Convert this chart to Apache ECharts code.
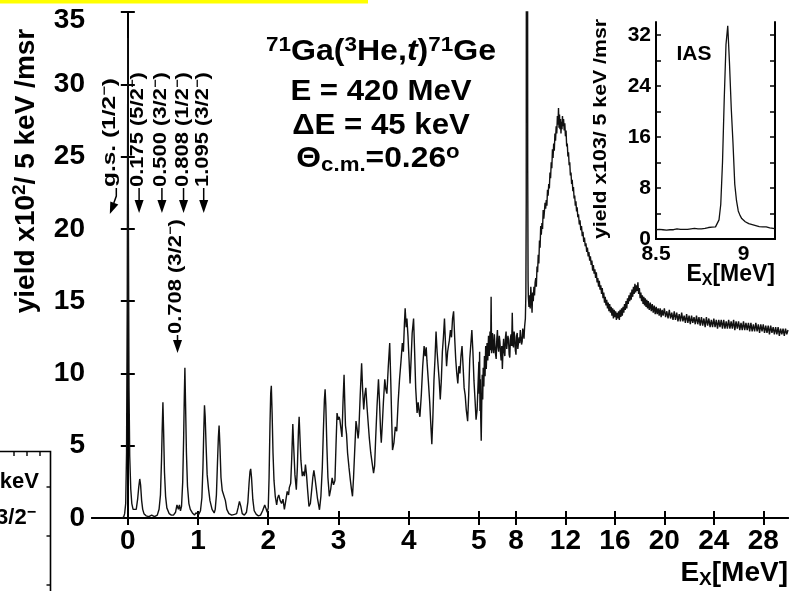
<!DOCTYPE html>
<html>
<head>
<meta charset="utf-8">
<script src="https://cdn.jsdelivr.net/npm/echarts@6/dist/echarts.min.js"></script>
<style>
  html, body { margin: 0; padding: 0; background: #fff; }
  #chart { width: 789px; height: 591px; }
</style>
</head>
<body>
<div id="chart"></div>
<script>
// ---- 71Ga(3He,t)71Ge excitation-energy spectrum ----
// Yield in units of 10^2 counts / 5 keV / msr, excitation energy in MeV.

// discrete low-lying states (0 - 2 MeV)
const lowLyingStates = [
  [-0.09, 0], [-0.06, 0.05], [-0.045, 0.3], [-0.03, 1.0], [-0.018, 4.5], [-0.008, 15], [0.0, 33.2],
  [0.008, 21], [0.017, 9], [0.027, 4.3], [0.042, 2.0], [0.057, 1.0], [0.075, 0.6], [0.1, 0.5],
  [0.12, 0.6], [0.14, 1.3], [0.155, 2.1], [0.17, 2.7], [0.182, 2.3], [0.197, 1.2], [0.212, 0.6],
  [0.23, 0.3], [0.26, 0.15], [0.3, 0.1], [0.34, 0.2], [0.38, 0.1], [0.42, 0.2], [0.445, 0.6],
  [0.465, 1.6], [0.48, 4.0], [0.49, 6.2], [0.5, 8.0], [0.51, 6.0], [0.522, 3.2], [0.538, 1.5],
  [0.556, 0.7], [0.59, 0.3], [0.62, 0.2], [0.65, 0.2], [0.68, 0.4], [0.70, 0.9], [0.71, 1.0],
  [0.72, 0.6], [0.735, 0.9], [0.75, 0.5], [0.765, 0.8], [0.782, 2.5], [0.795, 5.5], [0.805, 8.5],
  [0.813, 10.4], [0.822, 8.0], [0.835, 4.5], [0.85, 2.2], [0.87, 1.0], [0.89, 0.6], [0.92, 0.35],
  [0.95, 0.2], [0.97, 0.35], [0.99, 0.3], [1.01, 0.25], [1.035, 0.5], [1.055, 1.4], [1.07, 3.5],
  [1.082, 6.0], [1.092, 7.8], [1.102, 7.0], [1.115, 5.0], [1.13, 3.0], [1.15, 2.0], [1.17, 1.2],
  [1.2, 0.6], [1.23, 0.35], [1.245, 0.6], [1.262, 1.6], [1.277, 3.8], [1.29, 5.6], [1.30, 6.4],
  [1.312, 5.0], [1.327, 2.8], [1.345, 1.9], [1.37, 1.84], [1.39, 1.2], [1.41, 0.6], [1.44, 0.3],
  [1.48, 0.2], [1.52, 0.25], [1.55, 0.3], [1.57, 0.7], [1.59, 1.15], [1.61, 0.8], [1.63, 0.3],
  [1.66, 0.2], [1.69, 0.4], [1.71, 1.1], [1.727, 2.4], [1.74, 3.2], [1.75, 3.4], [1.762, 2.8],
  [1.78, 1.3], [1.80, 0.5], [1.83, 0.25], [1.86, 0.15], [1.89, 0.2], [1.92, 0.5], [1.95, 0.9],
  [1.965, 0.7], [1.985, 0.4], [2.0, 0.7]
];

// fragmented strength between 2 and 5 MeV
const fragmentedStates = [
  [2.012, 2.8], [2.025, 6.5], [2.035, 8.6], [2.044, 9.15], [2.055, 7.3], [2.068, 4.5], [2.082, 2.6],
  [2.10, 1.5], [2.12, 0.9], [2.135, 1.4], [2.15, 1.6], [2.17, 1.2], [2.19, 1.0], [2.21, 1.3],
  [2.23, 0.6], [2.25, 1.2], [2.27, 1.84], [2.29, 1.6], [2.30, 2.1], [2.32, 2.4], [2.335, 4.2],
  [2.35, 6.5], [2.362, 5.0], [2.38, 3.0], [2.40, 1.96], [2.415, 3.5], [2.43, 6.0], [2.44, 7.0],
  [2.45, 5.8], [2.465, 4.0], [2.485, 2.9], [2.50, 3.2], [2.515, 2.9], [2.53, 3.7], [2.545, 3.0],
  [2.56, 2.0], [2.58, 0.8], [2.60, 1.0], [2.62, 2.0], [2.635, 2.8], [2.65, 3.3], [2.665, 2.8],
  [2.68, 2.2], [2.70, 1.4], [2.73, 0.57], [2.75, 1.5], [2.77, 3.5], [2.785, 6.0], [2.80, 8.2],
  [2.81, 8.9], [2.82, 7.8], [2.835, 5.0], [2.85, 2.8], [2.87, 1.5], [2.89, 2.0], [2.91, 2.77],
  [2.93, 2.3], [2.95, 2.6], [2.965, 5.0], [2.98, 7.26], [2.995, 6.8], [3.01, 7.0], [3.02, 6.8],
  [3.035, 6.2], [3.05, 5.6], [3.065, 8.0], [3.08, 9.9], [3.09, 8.0], [3.10, 6.4], [3.115, 5.8],
  [3.13, 4.5], [3.15, 3.5], [3.17, 2.6], [3.185, 2.0], [3.20, 1.5], [3.215, 2.8], [3.23, 4.5],
  [3.25, 6.7], [3.265, 6.2], [3.28, 5.5], [3.29, 6.0], [3.31, 8.5], [3.33, 10.7], [3.345, 8.8],
  [3.36, 7.5], [3.375, 8.5], [3.39, 9.0], [3.405, 7.8], [3.42, 6.8], [3.44, 5.5], [3.46, 4.5],
  [3.48, 3.8], [3.50, 3.1], [3.515, 3.6], [3.53, 5.5], [3.55, 7.8], [3.57, 9.6], [3.585, 8.0],
  [3.60, 6.0], [3.61, 5.2], [3.625, 6.5], [3.64, 8.0], [3.66, 9.6], [3.675, 8.9], [3.69, 8.6],
  [3.71, 10.5], [3.73, 12.1], [3.745, 9.5], [3.76, 6.5], [3.77, 4.7], [3.79, 5.2], [3.81, 6.3],
  [3.83, 6.0], [3.85, 8.0], [3.87, 9.6], [3.89, 10.8], [3.91, 12.1], [3.925, 11.5], [3.94, 13.5],
  [3.95, 14.5], [3.965, 13.2], [3.975, 13.8], [3.99, 12.6], [4.005, 11.0], [4.02, 9.3],
  [4.035, 11.0], [4.05, 12.8], [4.07, 13.8], [4.085, 11.5], [4.10, 9.0], [4.12, 7.26],
  [4.135, 8.0], [4.15, 7.3], [4.16, 7.0], [4.18, 8.5], [4.20, 10.5], [4.22, 11.9], [4.235, 11.2],
  [4.25, 11.8], [4.26, 10.9], [4.28, 9.5], [4.30, 8.0], [4.315, 6.5], [4.33, 5.1], [4.345, 7.0],
  [4.36, 9.5], [4.375, 11.0], [4.39, 12.9], [4.405, 11.5], [4.42, 10.5], [4.435, 9.5], [4.45, 8.2],
  [4.465, 9.5], [4.48, 11.5], [4.495, 12.5], [4.51, 13.8], [4.525, 12.0], [4.54, 10.5],
  [4.555, 11.5], [4.57, 12.0], [4.58, 12.3], [4.595, 13.0], [4.61, 12.5], [4.625, 13.8],
  [4.64, 14.3], [4.655, 12.5], [4.67, 11.0], [4.685, 10.0], [4.70, 9.3], [4.715, 10.5],
  [4.73, 10.0], [4.745, 11.2], [4.76, 11.9], [4.775, 10.5], [4.79, 9.0], [4.805, 8.5], [4.82, 7.5],
  [4.84, 6.7], [4.855, 8.5], [4.87, 11.0], [4.885, 12.0], [4.90, 13.0], [4.915, 11.5], [4.93, 9.5],
  [4.945, 8.2], [4.96, 6.8], [4.975, 7.5], [4.99, 9.5], [5.0, 10.8]
];

// 5 - 8.8 MeV continuum up to the isobaric analog state
const continuumBelowIAS = [
  [5.03, 8.6], [5.06, 11.5], [5.09, 7.4], [5.12, 9.6], [5.15, 6.9], [5.19, 5.35], [5.23, 7.8],
  [5.27, 9.9], [5.31, 8.2], [5.35, 10.4], [5.4, 9.1], [5.45, 11.2], [5.5, 9.8], [5.55, 11.9],
  [5.6, 10.3], [5.66, 12.1], [5.72, 10.9], [5.78, 12.6], [5.84, 11.2], [5.9, 12.9], [5.95, 11.6],
  [5.99, 15.3], [6.03, 11.4], [6.1, 12.8], [6.15, 11.7], [6.2, 11.4], [6.25, 12.7], [6.3, 12.6],
  [6.35, 11.3], [6.4, 11.0], [6.45, 12.4], [6.5, 13.0], [6.55, 11.8], [6.6, 11.5], [6.65, 12.6],
  [6.7, 12.2], [6.75, 11.4], [6.8, 10.9], [6.85, 11.9], [6.9, 10.3], [6.95, 11.6], [7.0, 12.4],
  [7.05, 11.5], [7.1, 11.2], [7.15, 12.5], [7.2, 12.9], [7.25, 11.7], [7.3, 11.6], [7.35, 12.6],
  [7.4, 12.3], [7.45, 11.3], [7.5, 11.1], [7.55, 12.4], [7.6, 12.7], [7.65, 11.9], [7.7, 14.2],
  [7.75, 12.0], [7.8, 11.8], [7.85, 12.9], [7.9, 12.5], [7.95, 11.6], [8.0, 11.3], [8.05, 12.6],
  [8.1, 12.8], [8.15, 11.7], [8.2, 11.6], [8.25, 12.5], [8.3, 12.1], [8.35, 13.0], [8.4, 12.9],
  [8.45, 12.0], [8.5, 12.2], [8.55, 13.1], [8.6, 13.0], [8.65, 12.4], [8.7, 13.25], [8.76, 13.8]
];

// isobaric analog state (IAS), far above the frame at this scale
const iasPeak = [
  [8.80, 15.5], [8.83, 22], [8.85, 60], [8.87, 210], [8.885, 334], [8.90, 220], [8.92, 70],
  [8.95, 24], [8.98, 16.4], [9.0, 15.3]
];

// Gamow-Teller giant resonance and the continuum above it
const giantResonance = [
  [9.05, 14.6], [9.10, 15.4], [9.15, 14.5], [9.20, 16.0], [9.25, 15.2], [9.30, 14.2], [9.35, 15.6],
  [9.40, 15.0], [9.45, 16.0], [9.50, 15.4], [9.55, 16.3], [9.60, 16.6], [9.65, 16.0], [9.70, 17.4],
  [9.75, 17.0], [9.80, 18.2], [9.85, 17.6], [9.90, 19.2], [9.95, 18.7], [10.00, 20.2], [10.05, 19.6],
  [10.10, 20.4], [10.15, 20.0], [10.20, 21.3], [10.25, 20.7], [10.30, 21.2], [10.35, 21.8],
  [10.40, 21.4], [10.45, 22.0], [10.50, 21.6], [10.55, 22.7], [10.60, 22.3], [10.65, 23.1],
  [10.70, 22.8], [10.75, 23.9], [10.80, 23.5], [10.85, 24.6], [10.90, 24.2], [10.95, 25.5],
  [11.00, 24.9], [11.05, 25.9], [11.10, 25.4], [11.15, 26.6], [11.20, 26.1], [11.25, 27.1],
  [11.30, 26.6], [11.35, 27.8], [11.40, 27.2], [11.44, 28.35], [11.48, 27.0], [11.52, 27.9],
  [11.56, 26.9], [11.60, 27.6], [11.64, 26.6], [11.68, 27.4], [11.72, 26.9], [11.76, 27.8],
  [11.80, 27.1], [11.85, 27.6], [11.90, 26.8], [11.95, 27.3], [12.00, 26.4], [12.05, 26.8],
  [12.10, 25.7], [12.15, 25.9], [12.20, 25.0], [12.25, 25.3], [12.30, 24.4], [12.35, 24.6],
  [12.40, 23.7], [12.45, 23.9], [12.50, 23.1], [12.55, 23.4], [12.60, 22.6], [12.65, 22.9],
  [12.70, 22.1], [12.75, 22.3], [12.80, 21.6], [12.85, 21.9], [12.90, 21.2], [12.95, 21.5],
  [13.00, 20.8], [13.06, 21.0], [13.12, 20.3], [13.18, 20.6], [13.24, 19.9], [13.30, 20.2],
  [13.36, 19.5], [13.42, 19.8], [13.48, 19.1], [13.54, 19.4], [13.60, 18.8], [13.66, 19.0],
  [13.72, 18.4], [13.78, 18.7], [13.84, 18.1], [13.90, 18.4], [13.96, 17.8], [14.02, 18.1],
  [14.08, 17.5], [14.14, 17.8], [14.20, 17.1], [14.26, 17.5], [14.32, 16.9], [14.38, 17.2],
  [14.44, 16.6], [14.50, 17.0], [14.56, 16.3], [14.62, 16.6], [14.68, 16.0], [14.74, 16.4],
  [14.80, 15.8], [14.86, 16.1], [14.92, 15.5], [14.98, 15.9], [15.04, 15.2], [15.10, 15.6],
  [15.16, 14.9], [15.22, 15.3], [15.28, 14.7], [15.34, 15.1], [15.40, 14.5], [15.46, 14.9],
  [15.52, 14.3], [15.58, 14.8], [15.64, 14.2], [15.70, 14.6], [15.76, 14.0], [15.82, 14.5],
  [15.88, 13.8], [15.94, 14.4], [16.00, 13.9], [16.06, 14.3], [16.12, 13.7], [16.18, 14.2],
  [16.24, 13.8], [16.30, 14.3], [16.36, 13.7], [16.42, 14.4], [16.48, 13.9], [16.54, 14.5],
  [16.60, 14.0], [16.66, 14.6], [16.72, 14.2], [16.78, 14.8], [16.84, 14.4], [16.90, 15.0],
  [16.96, 14.5], [17.02, 15.2], [17.08, 14.8], [17.14, 15.4], [17.20, 15.0], [17.26, 15.6],
  [17.32, 15.1], [17.38, 15.8], [17.44, 15.3], [17.50, 16.0], [17.56, 15.5], [17.62, 16.2],
  [17.68, 15.6], [17.74, 16.1], [17.80, 15.7], [17.86, 16.3], [17.92, 15.5], [17.98, 15.9],
  [18.04, 15.2], [18.10, 15.6], [18.16, 15.0], [18.22, 15.4], [18.28, 14.8], [18.34, 15.3],
  [18.40, 14.7], [18.46, 15.2], [18.52, 14.6], [18.58, 15.1], [18.64, 14.5], [18.70, 15.0],
  [18.78, 14.4], [18.86, 14.9], [18.94, 14.3], [19.02, 14.8], [19.10, 14.2], [19.18, 14.7],
  [19.26, 14.1], [19.34, 14.6], [19.42, 14.1], [19.50, 14.5], [19.58, 14.0], [19.66, 14.5],
  [19.74, 13.9], [19.82, 14.4], [19.90, 14.0], [20.00, 14.5]
];

const highContinuum = [
  [20.10, 13.9], [20.20, 14.3], [20.30, 13.8], [20.40, 14.4], [20.50, 13.8], [20.60, 14.2],
  [20.70, 13.7], [20.80, 14.3], [20.90, 13.7], [21.00, 14.2], [21.10, 13.6], [21.20, 14.1],
  [21.30, 13.6], [21.40, 14.2], [21.50, 13.6], [21.60, 14.0], [21.70, 13.5], [21.80, 14.1],
  [21.90, 13.5], [22.00, 14.0], [22.10, 13.4], [22.20, 14.0], [22.30, 13.5], [22.40, 13.9],
  [22.50, 13.4], [22.60, 14.0], [22.70, 13.4], [22.80, 13.9], [22.90, 13.3], [23.00, 13.9],
  [23.10, 13.3], [23.20, 13.8], [23.30, 13.2], [23.40, 13.9], [23.50, 13.3], [23.60, 13.8],
  [23.70, 13.2], [23.80, 13.7], [23.90, 13.2], [24.00, 13.8], [24.10, 13.2], [24.20, 13.7],
  [24.30, 13.1], [24.40, 13.7], [24.50, 13.2], [24.60, 13.7], [24.70, 13.1], [24.80, 13.7],
  [24.90, 13.1], [25.00, 13.6], [25.10, 13.1], [25.20, 13.7], [25.30, 13.1], [25.40, 13.6],
  [25.50, 13.1], [25.60, 13.7], [25.70, 13.0], [25.80, 13.6], [25.90, 13.1], [26.00, 13.6],
  [26.10, 13.0], [26.20, 13.5], [26.30, 13.0], [26.40, 13.6], [26.50, 13.0], [26.60, 13.5],
  [26.70, 13.0], [26.80, 13.5], [26.90, 12.9], [27.00, 13.5], [27.10, 12.9], [27.20, 13.4],
  [27.30, 12.9], [27.40, 13.5], [27.50, 12.9], [27.60, 13.4], [27.70, 12.8], [27.80, 13.4],
  [27.90, 12.9], [28.00, 13.4], [28.10, 12.8], [28.20, 13.3], [28.30, 12.8], [28.40, 13.3],
  [28.50, 12.7], [28.60, 13.3], [28.70, 12.8], [28.80, 13.2], [28.90, 12.7], [29.00, 13.2],
  [29.10, 12.7], [29.20, 13.2], [29.30, 12.6], [29.40, 13.1], [29.50, 12.7], [29.60, 13.1],
  [29.70, 12.6], [29.80, 13.1], [29.90, 12.7], [30.00, 13.0]
];

// IAS region, yield in units of 10^3 / 5 keV / msr
const iasInset = [
  [8.50, 1.45], [8.51, 1.35], [8.52, 1.5], [8.53, 1.4], [8.54, 1.45], [8.55, 1.55], [8.56, 1.4],
  [8.57, 1.5], [8.58, 1.45], [8.59, 1.55], [8.60, 1.45], [8.61, 1.5], [8.62, 1.6], [8.63, 1.45],
  [8.64, 1.5], [8.65, 1.55], [8.66, 1.5], [8.67, 1.6], [8.68, 1.5], [8.69, 1.55], [8.70, 1.6],
  [8.71, 1.5], [8.72, 1.65], [8.73, 1.55], [8.74, 1.6], [8.75, 1.7], [8.76, 1.6], [8.77, 1.7],
  [8.78, 1.65], [8.79, 1.75], [8.80, 1.8], [8.81, 1.75], [8.82, 1.85], [8.83, 1.85], [8.84, 1.9],
  [8.85, 1.95], [8.86, 3.0], [8.87, 5.4], [8.88, 12], [8.89, 22], [8.90, 30.5], [8.91, 33.4],
  [8.92, 27.5], [8.93, 20.5], [8.94, 15], [8.95, 8.6], [8.96, 6.0], [8.97, 4.4], [8.98, 3.7],
  [8.99, 3.2], [9.00, 2.9], [9.01, 2.7], [9.02, 2.55], [9.03, 2.4], [9.04, 2.3], [9.05, 2.25],
  [9.06, 2.15], [9.07, 2.1], [9.08, 2.05], [9.09, 1.95], [9.10, 2.0], [9.11, 1.9], [9.12, 1.85],
  [9.13, 1.9], [9.14, 1.8], [9.15, 1.75], [9.16, 1.7], [9.17, 1.65], [9.18, 1.6]
];

// axis ticks (MeV) and labelled levels
const mainTicksMeV = [0, 1, 2, 3, 4, 5, 8, 12, 16, 20, 24, 28];
const insetTicksMeV = [8.5, 9];
const insetYTicks = [0, 4, 8, 12, 16, 20, 24, 28, 32];
const insetYLabels = [0, 8, 16, 24, 32];
const levelEnergies = [0.175, 0.500, 0.808, 1.095];
const levelSpins = ['5/2', '3/2', '1/2', '3/2'];
const lowerLevelEnergy = 0.708;
const lowerLevelSpin = '3/2';

// Excitation-energy axis is expanded below 5 MeV and compressed above.
const COMPRESS = 12.38 / 70.3;
const toU = e => (e <= 5 ? e : 5 + (e - 5) * COMPRESS);
const fromU = u => (u <= 5 + 1e-9 ? u : 5 + (u - 5) / COMPRESS);

const spectrum = [].concat(lowLyingStates, fragmentedStates, continuumBelowIAS, iasPeak,
  giantResonance, highContinuum).map(p => [toU(p[0]), p[1]]);

const FONT = '"Liberation Sans", Arial, Helvetica, sans-serif';
const INK = '#000';
const bold = (size, extra) => Object.assign({ fontFamily: FONT, fontWeight: 'bold', fontSize: size, color: INK }, extra || {});

const chart = echarts.init(document.getElementById('chart'), null, { renderer: 'canvas' });

const frameAxis = { lineStyle: { color: INK, width: 2 } };

chart.setOption({
  animation: false,
  backgroundColor: '#fff',
  grid: [
    { left: 92, top: 12, width: 696, height: 506 },
    { left: 656, top: 22, width: 119, height: 217 }
  ],
  xAxis: [
    {
      gridIndex: 0, type: 'value', min: -0.51, max: toU(30),
      axisLine: frameAxis,
      axisTick: { inside: true, length: 7, customValues: mainTicksMeV.map(toU), lineStyle: { color: INK, width: 2 } },
      axisLabel: Object.assign(bold(28), {
        customValues: mainTicksMeV.map(toU), margin: 9,
        formatter: v => String(Math.round(fromU(v)))
      }),
      splitLine: { show: false }
    },
    {
      gridIndex: 0, type: 'value', position: 'top', min: -0.51, max: toU(30),
      axisLine: frameAxis,
      axisTick: { inside: true, length: 7, customValues: mainTicksMeV.map(toU), lineStyle: { color: INK, width: 2 } },
      axisLabel: { show: false }, splitLine: { show: false }
    },
    {
      gridIndex: 1, type: 'value', min: 8.5, max: 9.18,
      axisLine: frameAxis,
      axisTick: { show: false },
      axisLabel: Object.assign(bold(21), { customValues: insetTicksMeV, margin: 5, formatter: v => String(v) }),
      splitLine: { show: false }
    },
    {
      gridIndex: 1, type: 'value', position: 'top', min: 8.5, max: 9.18,
      axisLine: frameAxis, axisTick: { show: false }, axisLabel: { show: false }, splitLine: { show: false }
    }
  ],
  yAxis: [
    {
      gridIndex: 0, type: 'value', min: 0, max: 35, interval: 5,
      axisLine: { show: true, lineStyle: { color: INK, width: 2 } },
      axisTick: { show: true, inside: true, length: 7, lineStyle: { color: INK, width: 2 } },
      axisLabel: Object.assign(bold(28), {
        margin: 7,
        formatter: v => (v === 35 ? '{top|35}' : String(v)),
        rich: { top: bold(28, { padding: [16, 0, 0, 0] }) }
      }),
      splitLine: { show: false }
    },
    {
      gridIndex: 0, type: 'value', position: 'right', min: 0, max: 35, interval: 5,
      axisLine: { show: true, lineStyle: { color: INK, width: 2 } },
      axisTick: { show: true, inside: true, length: 7, lineStyle: { color: INK, width: 2 } },
      axisLabel: { show: false }, splitLine: { show: false }
    },
    {
      gridIndex: 1, type: 'value', min: 0, max: 34,
      axisLine: { show: true, lineStyle: { color: INK, width: 2 } },
      axisTick: { show: true, inside: true, length: 5, customValues: insetYTicks, lineStyle: { color: INK, width: 1.5 } },
      axisLabel: Object.assign(bold(21), { customValues: insetYLabels, margin: 5 }),
      splitLine: { show: false }
    },
    {
      gridIndex: 1, type: 'value', position: 'right', min: 0, max: 34,
      axisLine: { show: true, lineStyle: { color: INK, width: 2 } },
      axisTick: { show: true, inside: true, length: 5, customValues: insetYTicks, lineStyle: { color: INK, width: 1.5 } },
      axisLabel: { show: false }, splitLine: { show: false }
    }
  ],
  series: [
    {
      type: 'line', xAxisIndex: 0, yAxisIndex: 0, data: spectrum,
      showSymbol: false, clip: true, lineStyle: { color: '#111', width: 1.4 }
    },
    {
      type: 'line', xAxisIndex: 2, yAxisIndex: 2, data: iasInset,
      showSymbol: false, clip: true, lineStyle: { color: '#111', width: 1.3 }
    }
  ]
});

// ---- annotations ----
function richStyles(n, s) {
  return {
    n: { fontFamily: FONT, fontWeight: 'bold', fontSize: n, fill: INK, lineHeight: n + 4 },
    i: { fontFamily: FONT, fontWeight: 'bold', fontStyle: 'italic', fontSize: n, fill: INK, lineHeight: n + 4 },
    sup: { fontFamily: FONT, fontWeight: 'bold', fontSize: s, fill: INK, lineHeight: s - 2, verticalAlign: 'top' },
    sub: { fontFamily: FONT, fontWeight: 'bold', fontSize: s, fill: INK, lineHeight: s - 2, verticalAlign: 'bottom' }
  };
}
// text element; `stretch` widens the glyph run along its reading direction
function label(x, y, text, n, s, align, rot, stretch) {
  return {
    type: 'text', x: x, y: y, rotation: rot || 0, scaleX: stretch || 1, scaleY: 1,
    silent: true, z: 10,
    style: {
      text: text, rich: richStyles(n, s), x: 0, y: 0,
      fontFamily: FONT, fontWeight: 'bold', fontSize: n, fill: INK,
      align: align || 'center', verticalAlign: 'middle'
    }
  };
}
function downArrow(x, yFrom, tip) {
  return [
    { type: 'line', silent: true, shape: { x1: x, y1: yFrom, x2: x, y2: tip - 11 }, style: { stroke: INK, lineWidth: 1.5 } },
    { type: 'polygon', silent: true, shape: { points: [[x - 4.5, tip - 13], [x + 4.5, tip - 13], [x, tip]] }, style: { fill: INK } }
  ];
}
const px = e => chart.convertToPixel({ xAxisIndex: 0, yAxisIndex: 0 }, [toU(e), 0])[0];

const g = [];
// highlight strip and neighbouring panel edge
g.push({ type: 'rect', silent: true, shape: { x: 0, y: 0, width: 368, height: 3.5 }, style: { fill: '#ffff00' } });
g.push({ type: 'polyline', silent: true, shape: { points: [[0, 451.5], [50.5, 451.5], [50.5, 591]] }, style: { stroke: INK, lineWidth: 1.6, fill: null } });
[14, 27, 40].forEach(x => g.push({ type: 'line', silent: true, shape: { x1: x, y1: 451.5, x2: x, y2: 456 }, style: { stroke: INK, lineWidth: 1.4 } }));
[487, 536, 585].forEach(y => g.push({ type: 'line', silent: true, shape: { x1: 46.5, y1: y, x2: 50.5, y2: y }, style: { stroke: INK, lineWidth: 1.4 } }));
g.push(label(39, 482, '{n|keV}', 22, 14, 'right'));
g.push(label(36, 518, '{n|3/2}{sup|−}', 22, 16, 'right'));

// y-axis titles
g.push(label(26, 171, '{n|yield x10}{sup|2}{n|/ 5 keV /msr}', 28, 19, 'center', Math.PI / 2));
g.push(label(601, 129, '{n|yield x103/ 5 keV /msr}', 19, 12, 'center', Math.PI / 2, 1.12));

// x-axis titles
g.push(label(788, 573, '{n|E}{sub|X}{n|[MeV]}', 28, 19, 'right'));
g.push(label(775, 275, '{n|E}{sub|X}{n|[MeV]}', 23, 16, 'right'));
g.push(label(694, 54, '{n|IAS}', 21, 14, 'center'));

// reaction and kinematics
g.push(label(381, 52, '{sup|71}{n|Ga(}{sup|3}{n|He,}{i|t}{n|)}{sup|71}{n|Ge}', 30, 21, 'center', 0, 1.07));
g.push(label(381, 92, '{n|E = 420 MeV}', 30, 20, 'center', 0, 1.04));
g.push(label(381, 126, '{n|ΔE = 45 keV}', 30, 20, 'center', 0, 1.04));
g.push(label(378, 159, '{n|Θ}{sub|c.m.}{n|=0.26}{sup|o}', 30, 21, 'center', 0, 1.06));

// ground state label with bent arrow
const x0 = px(0);
g.push(label(x0 - 18, 187, '{n|g.s. (1/2}{sup|−}{n|)}', 18, 12, 'left', Math.PI / 2, 1.36));
g.push({ type: 'polyline', silent: true, shape: { points: [[x0 - 11.5, 188], [x0 - 11.5, 196], [x0 - 14, 203]] }, style: { stroke: INK, lineWidth: 1.5, fill: null } });
g.push({ type: 'polygon', silent: true, shape: { points: [[x0 - 18, 214], [x0 - 9.5, 204.5], [x0 - 17.5, 201.5]] }, style: { fill: INK } });

// excited states with arrows
levelEnergies.forEach((e, k) => {
  const x = px(e) - 1;
  g.push(label(x - 1, 187, '{n|' + e.toFixed(3) + ' (' + levelSpins[k] + '}{sup|−}{n|)}', 18, 12, 'left', Math.PI / 2, 1.22));
  downArrow(x, 188, 213).forEach(el => g.push(el));
});
const xl = px(lowerLevelEnergy);
g.push(label(xl - 1.5, 334, '{n|' + lowerLevelEnergy.toFixed(3) + ' (' + lowerLevelSpin + '}{sup|−}{n|)}', 18, 12, 'left', Math.PI / 2, 1.22));
downArrow(xl, 335, 353).forEach(el => g.push(el));

chart.setOption({ graphic: g });
</script>
</body>
</html>
